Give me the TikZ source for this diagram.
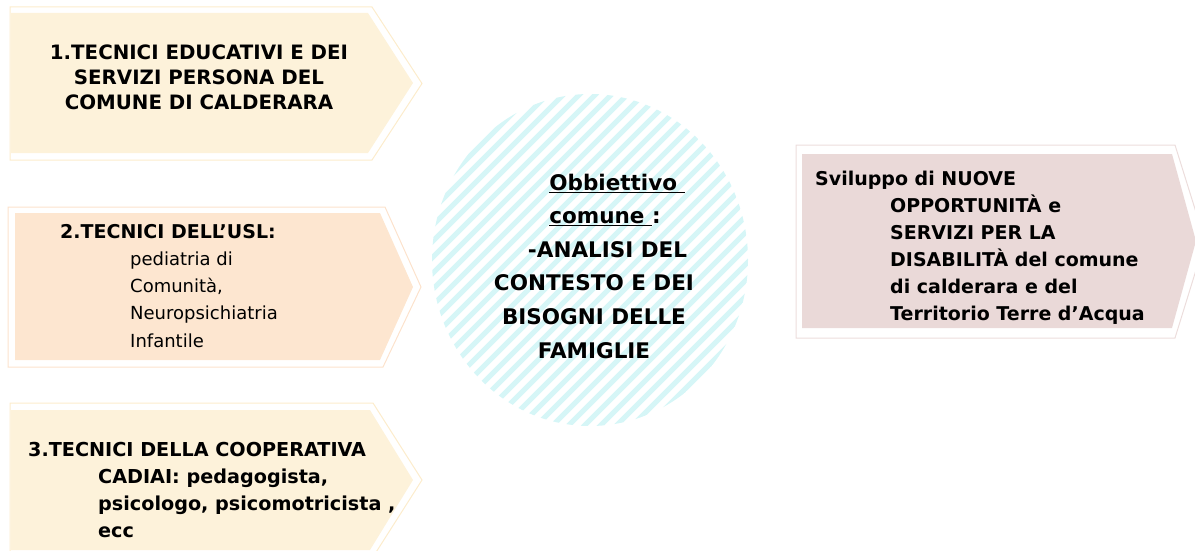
\documentclass[tikz,border=0pt]{standalone}
\usepackage{fontspec}
\setmainfont{DejaVu Sans}
\definecolor{cream}{RGB}{253,242,218}
\definecolor{creamline}{RGB}{252,236,204}
\definecolor{peach}{RGB}{253,230,208}
\definecolor{peachline}{RGB}{252,226,204}
\definecolor{rose}{RGB}{234,217,216}
\definecolor{roseline}{RGB}{236,221,220}
\definecolor{stripe}{RGB}{214,246,247}
\newcommand{\bsz}{\fontsize{19}{27.2}\selectfont\bfseries}

\begin{document}
\begin{tikzpicture}[x=1pt, y=-1pt, every node/.append style={text=black, inner sep=0pt}]
\useasboundingbox (0,0) rectangle (1195,551);
\tikzset{
	boxline/.style={line width=1pt},
	boldtxt/.style 2 args={font=\fontsize{#1}{#2}\selectfont\bfseries},
	regtxt/.style={font=\fontsize{18}{#1}\selectfont}
}
	% striped circle
	\begin{scope}
		\clip (590,260) coordinate (c) ellipse [x radius=158, y radius=166];
		\foreach \k in {-25,...,25}
		{
			\draw[stripe, line width=5pt] (590+\k*16-200, 460) -- ++(400,-400);
		}
	\end{scope}

	% arrow shaped boxes
	\fill[cream] (11,13) -- (368,13) -- (413,83) -- (368,153) -- (11,153) -- cycle;
	\draw[creamline, boxline] (10,7) -- (372,7) -- (422,83.5) -- (372,160) -- (10,160) -- cycle;
	\fill[peach] (15,213) -- (380,213) -- (413,287) -- (380,360) -- (15,360) -- cycle;
	\draw[peachline, boxline] (8,207) -- (385,207) -- (421,287) -- (383,367) -- (8,367) -- cycle;
	\fill[cream] (11,410) -- (370,410) -- (413,480) -- (370,550) -- (11,550) -- cycle;
	\draw[creamline, boxline] (10,403) -- (373,403) -- (422,480) -- (373,557) -- (10,557) -- cycle;
	\fill[rose] (802,154) -- (1172,154) -- (1196,241) -- (1172,328) -- (802,328) -- cycle;
	\draw[roseline, boxline] (796,145) -- (1175,145) -- (1205,241) -- (1175,338) -- (796,338) -- cycle;

	% texts
	\node[boldtxt={19.8}{25}, align=center, anchor=base] (tecedu) at (199,110)
		{1.TECNICI EDUCATIVI E DEI\\SERVIZI PERSONA DEL\\COMUNE DI CALDERARA};
	\node[regtxt=27.2, align=left, anchor=base west] (tecusl) at (60,347)
		{{\bsz 2.TECNICI DELL’USL:}\\\hspace*{70pt}pediatria di\\\hspace*{70pt}Comunità,\\
		\hspace*{70pt}Neuropsichiatria\\\hspace*{70pt}Infantile};
	\node[boldtxt={19.2}{26.7}, align=left, anchor=base west] (teccoop) at (28,537)
		{3.TECNICI DELLA COOPERATIVA\\\hspace*{70pt}CADIAI: pedagogista,\\
		\hspace*{70pt}psicologo, psicomotricista ,\\\hspace*{70pt}ecc};
	\node[boldtxt={21.5}{33.6}, align=center, anchor=base] (obiettivo) at (594,358)
		{\hspace*{46pt}\underline{Obbiettivo\ }\\\hspace*{22pt}\underline{comune\ }:\\
		\hspace*{27pt}-ANALISI DEL\\CONTESTO E DEI\\BISOGNI DELLE\\FAMIGLIE};
	\node[boldtxt={19}{27}, align=left, anchor=base west] (sviluppo) at (815,320)
		{Sviluppo di NUOVE\\\hspace*{75pt}OPPORTUNITÀ e\\\hspace*{75pt}SERVIZI PER LA\\
		\hspace*{75pt}DISABILITÀ del comune\\\hspace*{75pt}di calderara e del\\
		\hspace*{75pt}Territorio Terre d’Acqua};
\end{tikzpicture}
\end{document}
